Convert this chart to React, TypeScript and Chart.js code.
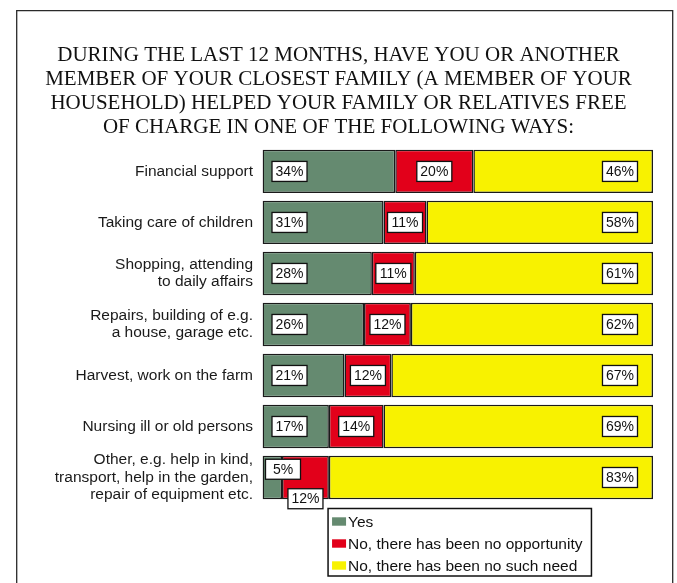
import React, { useEffect, useRef } from 'react';
import { Chart, registerables } from 'chart.js';

Chart.register(...registerables);

const titleLines = [
  'DURING THE LAST 12 MONTHS, HAVE YOU OR ANOTHER',
  'MEMBER OF YOUR CLOSEST FAMILY (A MEMBER OF YOUR',
  'HOUSEHOLD) HELPED YOUR FAMILY OR RELATIVES FREE',
  'OF CHARGE IN ONE OF THE FOLLOWING WAYS:',
];

const categories = [
  ['Financial support'],
  ['Taking care of children'],
  ['Shopping, attending', 'to daily affairs'],
  ['Repairs, building of e.g.', 'a house, garage etc.'],
  ['Harvest, work on the farm'],
  ['Nursing ill or old persons'],
  ['Other, e.g. help in kind,', 'transport, help in the garden,', 'repair of equipment etc.'],
];

const yesValues = [34, 31, 28, 26, 21, 17, 5];
const noOpportunityValues = [20, 11, 11, 12, 12, 14, 12];
const noNeedValues = [46, 58, 61, 62, 67, 69, 83];

const seriesNames = ['Yes', 'No, there has been no opportunity', 'No, there has been no such need'];
const seriesColors = ['#658a70', '#e2001a', '#f8f200'];

const SANS = '"Liberation Sans", Arial, sans-serif';
const SERIF = '"Liberation Serif", "Times New Roman", serif';

const framePlugin = {
  id: 'frame',
  beforeDraw(chart: any) {
    const ctx = chart.ctx;
    ctx.save();
    ctx.fillStyle = '#ffffff';
    ctx.fillRect(0, 0, chart.width, chart.height);
    ctx.strokeStyle = '#2a2a2a';
    ctx.lineWidth = 1.3;
    ctx.beginPath();
    ctx.moveTo(16.7, chart.height + 10);
    ctx.lineTo(16.7, 10.7);
    ctx.lineTo(672.7, 10.7);
    ctx.lineTo(672.7, chart.height + 10);
    ctx.stroke();
    ctx.restore();
  },
};

const labelPlugin = {
  id: 'boxLabels',
  afterDatasetsDraw(chart: any) {
    const ctx = chart.ctx;
    ctx.save();
    ctx.font = '14px ' + SANS;
    ctx.textAlign = 'center';
    ctx.textBaseline = 'middle';
    chart.data.datasets.forEach((ds: any, di: number) => {
      const meta = chart.getDatasetMeta(di);
      meta.data.forEach((el: any, j: number) => {
        const { x, base, y, height } = el.getProps(['x', 'base', 'y', 'height'], true);
        const text = ds.data[j] + '%';
        const tw = ctx.measureText(text).width;
        const w = Math.max(tw + 7, 35);
        const h = 20;
        const left = Math.min(x, base);
        const right = Math.max(x, base);
        const yesEl = chart.getDatasetMeta(0).data[j].getProps(['x', 'base'], true);
        const yesWidth = Math.abs(yesEl.x - yesEl.base);
        const narrow = yesWidth < w + 12;
        let cx: number;
        let cy = y;
        if (di === 0) {
          cx = narrow ? left + 3 + w / 2 : left + 9.5 + w / 2;
          if (narrow) cy = y - height * 0.19;
        } else if (di === 1) {
          cx = (left + right) / 2;
          if (narrow) cy = y + height * 0.49;
        } else {
          cx = right - 15.5 - w / 2;
        }
        ctx.fillStyle = '#ffffff';
        ctx.fillRect(cx - w / 2, cy - h / 2, w, h);
        ctx.strokeStyle = '#111111';
        ctx.lineWidth = 1.3;
        ctx.strokeRect(cx - w / 2, cy - h / 2, w, h);
        ctx.fillStyle = '#111111';
        ctx.fillText(text, cx, cy + 0.5);
      });
    });
    ctx.restore();
  },
};

const legendPlugin = {
  id: 'boxLegend',
  afterDraw(chart: any) {
    const ctx = chart.ctx;
    const area = chart.chartArea;
    ctx.save();
    ctx.font = '15.5px ' + SANS;
    const names = chart.data.datasets.map((d: any) => d.label);
    const maxW = Math.max(...names.map((n: string) => ctx.measureText(n).width));
    const boxW = 4 + 14 + 2 + maxW + 9;
    const rowH = 22;
    const boxH = 13 + rowH * (names.length - 1) + 10.5;
    const cxm = (area.left + area.right) / 2 + 2;
    const bx = cxm - boxW / 2;
    const by = area.bottom + 5.5;
    ctx.fillStyle = '#ffffff';
    ctx.fillRect(bx, by, boxW, boxH);
    ctx.strokeStyle = '#111111';
    ctx.lineWidth = 1.5;
    ctx.strokeRect(bx, by, boxW, boxH);
    ctx.textAlign = 'left';
    ctx.textBaseline = 'middle';
    chart.data.datasets.forEach((d: any, i: number) => {
      const cy = by + 13 + i * rowH;
      ctx.fillStyle = d.backgroundColor;
      ctx.fillRect(bx + 4, cy - 4.2, 14, 8.4);
      ctx.fillStyle = '#111111';
      ctx.fillText(d.label, bx + 20, cy + 1);
    });
    ctx.restore();
  },
};

export default function App() {
  const ref = useRef<HTMLCanvasElement | null>(null);

  useEffect(() => {
    if (!ref.current) return;
    const seriesData = [yesValues, noOpportunityValues, noNeedValues];
    const chart = new Chart(ref.current, {
      type: 'bar',
      data: {
        labels: categories,
        datasets: seriesData.map((vals, i) => ({
          label: seriesNames[i],
          data: vals,
          backgroundColor: seriesColors[i],
          borderColor: '#1a1a1a',
          borderWidth: 1.5,
          borderSkipped: false,
          barPercentage: 0.85,
          categoryPercentage: 1,
        })),
      },
      options: {
        indexAxis: 'y',
        responsive: false,
        animation: false,
        layout: { padding: { left: 24, right: 24, top: 0, bottom: 80 } },
        plugins: {
          legend: { display: false },
          tooltip: { enabled: false },
          title: {
            display: true,
            text: titleLines,
            color: '#111111',
            font: { family: SERIF, size: 21, weight: 'normal', lineHeight: 1.13 },
            padding: { top: 44, bottom: 7 },
          },
        },
        scales: {
          x: {
            display: false,
            stacked: true,
            min: 0,
            max: 100,
          },
          y: {
            stacked: true,
            grid: { display: false, drawTicks: false },
            border: { display: false },
            ticks: {
              autoSkip: false,
              color: '#1a1a1a',
              padding: 9.5,
              font: { family: SANS, size: 15.5, lineHeight: 1.12 },
            },
            afterFit: (scale: any) => {
              scale.width = 238.5;
            },
          },
        },
      },
      plugins: [framePlugin, labelPlugin, legendPlugin],
    });
    return () => chart.destroy();
  }, []);

  return (
    <div style={{ position: 'absolute', left: 0, top: 0, width: 677, height: 583 }}>
      <canvas ref={ref} width={677} height={583} />
    </div>
  );
}
